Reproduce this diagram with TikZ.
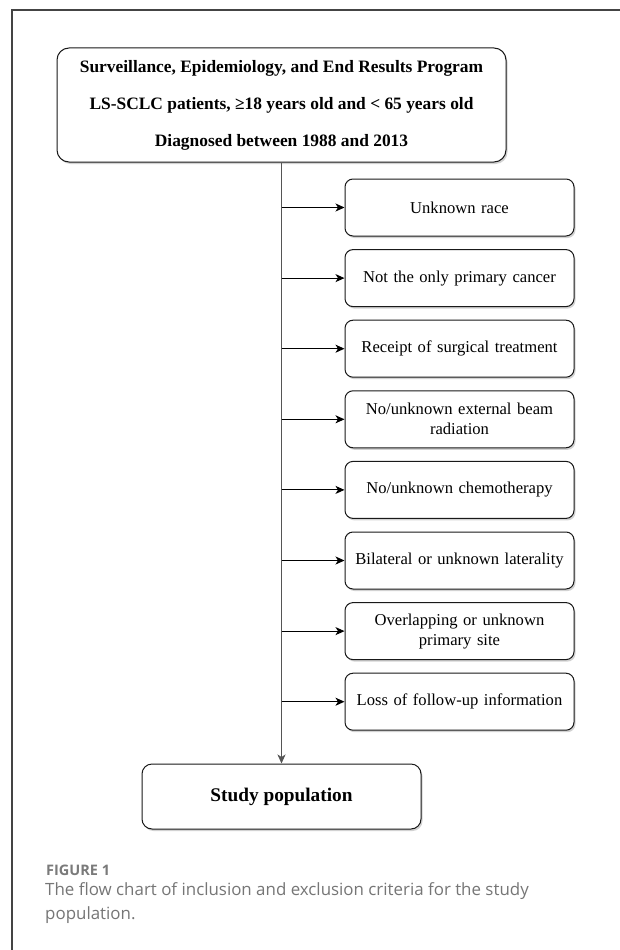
\documentclass[tikz,border=0pt]{standalone}
\usepackage{fontspec}
\setmainfont{Liberation Serif}
\newfontfamily\capfont{Open Sans}
\usetikzlibrary{arrows.meta,shadows}
\definecolor{framegray}{HTML}{444444}
\definecolor{trunkgray}{HTML}{555555}
\definecolor{capgray}{HTML}{767676}
\definecolor{figgray}{HTML}{7A7A7A}
\begin{document}
\begin{tikzpicture}[x=1pt,y=-1pt,
  boxbase/.style={draw=black!90, line width=1pt, fill=white, inner sep=0pt, align=center,
    drop shadow={shadow xshift=1.5pt, shadow yshift=-2pt, opacity=0.35, fill=gray}},
  topbox/.style={boxbase, rounded corners=12pt, minimum width=449pt, minimum height=114pt,
    font=\fontsize{17.4}{37}\selectfont\bfseries},
  exbox/.style={boxbase, rounded corners=8pt, minimum width=229pt, minimum height=57pt,
    text width=215pt, font=\fontsize{16.6}{20}\selectfont},
  studybox/.style={boxbase, rounded corners=10pt, minimum width=279pt, minimum height=65pt,
    font=\fontsize{19.3}{22}\selectfont\bfseries},
  arr/.style={-{Stealth[length=9pt,width=8pt,inset=2.5pt]}, line width=1pt, draw=black},
  trunk/.style={-{Stealth[length=9pt,width=8pt,inset=2.5pt]}, line width=1.3pt, draw=trunkgray}
]
\useasboundingbox (0,0) rectangle (620,950);
\fill[white] (0,0) rectangle (620,950);
\draw[framegray, line width=1.5pt] (12,950) -- (12,10) -- (620,10);

\node[topbox] (top) at (281.5,105) {Surveillance, Epidemiology, and End Results Program\\
LS-SCLC patients, ≥18 years old and < 65 years old\\
Diagnosed between 1988 and 2013};

\node[exbox] (e1) at (459.5,207.5) {Unknown race};
\node[exbox] (e2) at (459.5,278.1) {Not the only primary cancer};
\node[exbox] (e3) at (459.5,348.7) {Receipt of surgical treatment};
\node[exbox] (e4) at (459.5,419.3) {No/unknown external beam\\radiation};
\node[exbox] (e5) at (459.5,489.9) {No/unknown chemotherapy};
\node[exbox] (e6) at (459.5,560.5) {Bilateral or unknown laterality};
\node[exbox] (e7) at (459.5,631.1) {Overlapping or unknown\\primary site};
\node[exbox] (e8) at (459.5,701.7) {Loss of follow-up information};

\node[studybox] (study) at (281.5,796.5) {Study population};

\draw[trunk] (top.south) -- (study.north);
\foreach \i in {1,...,8}{
  \draw[arr] (top.south |- e\i.west) -- (e\i.west);
}

\node[anchor=base west, inner sep=0pt, text=figgray, font=\capfont\bfseries\fontsize{14.5}{16}\selectfont] (figlab) at (46,875.5) {FIGURE 1};
\node[anchor=north west, inner sep=0pt, align=left, text=capgray, font=\capfont\fontsize{16.9}{24}\selectfont] (cap) at (45,882)
  {The flow chart of inclusion and exclusion criteria for the study\\population.};
\end{tikzpicture}
\end{document}
